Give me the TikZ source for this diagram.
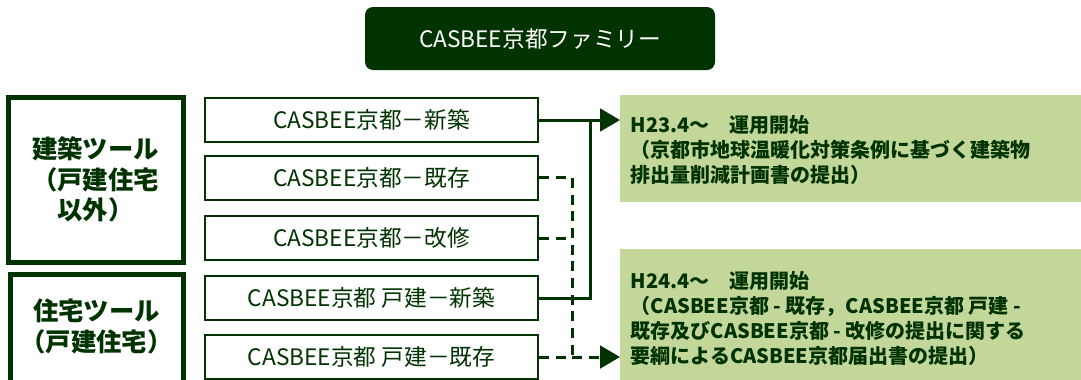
\documentclass[tikz,border=0pt]{standalone}
\usepackage{fontspec}
\setmainfont{Noto Sans CJK JP}
\usepackage{tikz}
\usetikzlibrary{arrows.meta}
\definecolor{kyotogreen}{RGB}{0,51,0}
\definecolor{noticegreen}{RGB}{196,215,155}

\begin{document}
\begin{tikzpicture}[x=0.75pt,y=-0.75pt,
    toolbox/.style={draw=kyotogreen,line width=3.75pt,inner sep=0pt},
    tooltext/.style={align=center,font=\fontsize{19}{23}\selectfont\bfseries,text=kyotogreen},
    ratingbox/.style={draw=kyotogreen,line width=1.5pt,fill=white,minimum width=249.75pt,minimum height=33pt,inner sep=0pt,font=\fontsize{17}{20}\selectfont,text=kyotogreen},
    noticebox/.style={fill=noticegreen,anchor=north west,inner sep=0pt,minimum width=345.75pt},
    notice/.style={anchor=west,align=left,font=\fontsize{15}{18.75}\selectfont\bfseries,text=kyotogreen},
    route/.style={kyotogreen,line width=2.25pt},
    existroute/.style={route,dash pattern=on 7.5pt off 5pt},
    tip/.style={-{Triangle[length=15pt,width=17pt]}}]
    \useasboundingbox (0,0) rectangle (1081,379);
    \clip (0,0) rectangle (1081,379);

    % Family title
    \node[fill=kyotogreen,rounded corners=6pt,minimum width=262.5pt,minimum height=47.25pt,
          text=white,font=\fontsize{17}{20}\selectfont] (family) at (540,38.5) {CASBEE京都ファミリー};

    % Tool groups
    \node[toolbox,minimum width=131.25pt,minimum height=123.75pt] (building) at (95.5,179.5) {};
    \node[tooltext] at (building.center) {建築ツール\\（戸建住宅\\以外）};
    \node[toolbox,minimum width=129.75pt,minimum height=90pt] (house) at (96.5,334) {};
    \node[tooltext] at (96.5,326.5) {住宅ツール\\（戸建住宅）};

    % Rating tools
    \node[ratingbox] (new) at (371.5,120) {CASBEE京都－新築};
    \node[ratingbox] (exist) at (371.5,177.5) {CASBEE京都－既存};
    \node[ratingbox] (renov) at (371.5,238) {CASBEE京都－改修};
    \node[ratingbox] (hnew) at (371.5,298) {CASBEE京都\ 戸建－新築};
    \node[ratingbox] (hexist) at (371.5,357) {CASBEE京都\ 戸建－既存};

    % Start of operation
    \node[noticebox,minimum height=80.25pt] (h23) at (620,95) {};
    \node[notice] at (626,150) {H23.4～\quad 運用開始\\（京都市地球温暖化対策条例に基づく建築物\\排出量削減計画書の提出）};
    \node[noticebox,minimum height=105pt] (h24) at (620,249) {};
    \node[notice] at (626,318) {H24.4～\quad 運用開始\\（CASBEE京都 - 既存，CASBEE京都\ 戸建 -\\既存及びCASBEE京都 - 改修の提出に関する\\要綱によるCASBEE京都届出書の提出）};

    % Solid route
    \coordinate (newbus) at (590,0);
    \draw[route,tip] (new.east) -- (new.east -| h23.west);
    \draw[route] (hnew.east) -- (hnew.east -| newbus) -- (newbus |- new.east);

    % Dashed route
    \coordinate (existbus) at (572,0);
    \draw[existroute] (exist.east) -- (exist.east -| existbus) -- (existbus |- hexist.east);
    \draw[existroute] (renov.east) -- (renov.east -| existbus);
    \draw[existroute,tip] (hexist.east) -- (hexist.east -| h24.west);
\end{tikzpicture}
\end{document}
